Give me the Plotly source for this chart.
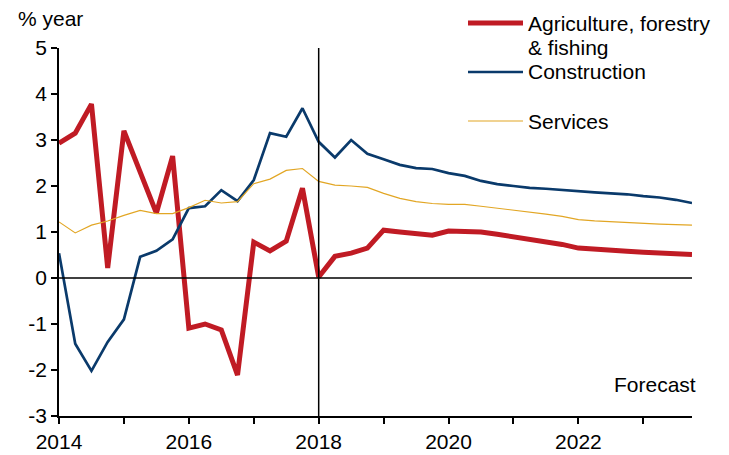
import plotly.graph_objects as go

# quarterly, 2014Q1 .. 2023Q4
quarters = [2014 + 0.25 * i for i in range(40)]

agriculture = [2.93, 3.15, 3.78, 0.22, 3.2, 2.3, 1.41, 2.65,
               -1.09, -1.0, -1.13, -2.11, 0.78, 0.59, 0.8, 1.95,
               0.02, 0.47, 0.54, 0.65, 1.04, 1.0, 0.97, 0.93,
               1.02, 1.02, 1.0, 0.95, 0.9, 0.85, 0.79, 0.73,
               0.65, 0.62, 0.6, 0.58, 0.56, 0.54, 0.52, 0.51]

construction = [0.54, -1.43, -2.02, -1.39, -0.9, 0.46, 0.59, 0.84,
                1.52, 1.56, 1.91, 1.67, 2.13, 3.15, 3.07, 3.69,
                2.96, 2.62, 3.0, 2.7, 2.58, 2.46, 2.39, 2.37,
                2.28, 2.22, 2.11, 2.04, 2.0, 1.96, 1.94, 1.91,
                1.88, 1.86, 1.84, 1.82, 1.78, 1.75, 1.7, 1.63]

services = [1.22, 0.98, 1.15, 1.24, 1.36, 1.47, 1.4, 1.4,
            1.53, 1.69, 1.63, 1.66, 2.05, 2.15, 2.34, 2.38,
            2.1, 2.02, 2.0, 1.97, 1.84, 1.73, 1.66, 1.62,
            1.6, 1.6, 1.56, 1.52, 1.48, 1.43, 1.39, 1.34,
            1.27, 1.24, 1.22, 1.21, 1.19, 1.17, 1.16, 1.15]

forecast_start = 2018
year_ticks = [2014, 2016, 2018, 2020, 2022]
y_ticks = [-3, -2, -1, 0, 1, 2, 3, 4, 5]

series = [
    ("Agriculture, forestry<br>& fishing", agriculture, "#C01B24", 5),
    ("Construction", construction, "#0A3A6B", 2.7),
    ("Services", services, "#E2A624", 1.2),
]

font = "Liberation Sans, Arial, sans-serif"

fig = go.Figure()
for name, vals, color, width in series:
    fig.add_trace(go.Scatter(x=quarters, y=vals, mode="lines", name=name,
                             line=dict(color=color, width=width), showlegend=False))

# forecast divider and zero line
fig.add_shape(type="line", xref="x", yref="y", x0=forecast_start, x1=forecast_start,
              y0=-3, y1=5, line=dict(color="black", width=1.5))
fig.add_shape(type="line", xref="paper", yref="y", x0=0, x1=1, y0=0, y1=0,
              line=dict(color="black", width=1.5))

# hand-made legend, rows in paper units (plot area is 633 x 368 px)
PW, PH = 633.0, 368.0
legend_rows = [  # (text lines, y of first line in px above plot top)
    (["Agriculture, forestry", "& fishing"], 25),
    (["Construction"], -24),
    (["Services"], -73),
]
for (lines, top), (_, _, color, width) in zip(legend_rows, series):
    y0 = 1 + top / PH
    fig.add_shape(type="line", xref="paper", yref="paper",
                  x0=409 / PW, x1=464 / PW, y0=y0, y1=y0,
                  line=dict(color=color, width=width))
    for i, txt in enumerate(lines):
        fig.add_annotation(text=txt, xref="paper", yref="paper",
                           x=467 / PW, y=y0 - i * 24.5 / PH,
                           xanchor="left", yanchor="middle", showarrow=False,
                           font=dict(size=21, color="black"))

fig.add_annotation(text="% year", xref="paper", yref="paper", x=-0.068, y=1.044,
                   xanchor="left", yanchor="bottom", showarrow=False,
                   font=dict(size=21, color="black"))
fig.add_annotation(text="Forecast", xref="paper", yref="paper", x=1.01, y=0.05,
                   xanchor="right", yanchor="bottom", showarrow=False,
                   font=dict(size=21, color="black"))

# page body adds an 8px offset, so the figure is 8px smaller than the window
fig.update_layout(
    width=721, height=447,
    margin=dict(l=51, r=37, t=40, b=39, autoexpand=False),
    plot_bgcolor="white", paper_bgcolor="white",
    font=dict(family=font, size=21, color="black"),
    showlegend=False,
    xaxis=dict(range=[2014, 2023.75], tickvals=year_ticks, ticktext=[str(y) for y in year_ticks],
               ticks="outside", ticklen=6, tickwidth=1.5, tickcolor="black",
               minor=dict(dtick=1, tick0=2014, ticks="outside", ticklen=6, tickwidth=1.5, tickcolor="black"),
               showline=True, linecolor="black", linewidth=1.5, showgrid=False, zeroline=False),
    yaxis=dict(range=[-3, 5], tickvals=y_ticks, ticktext=[str(v) for v in y_ticks],
               ticks="outside", ticklen=6, tickwidth=1.5,
               tickcolor="black", showline=True, linecolor="black", linewidth=1.5,
               showgrid=False, zeroline=False),
)

fig.write_html("out.html")
